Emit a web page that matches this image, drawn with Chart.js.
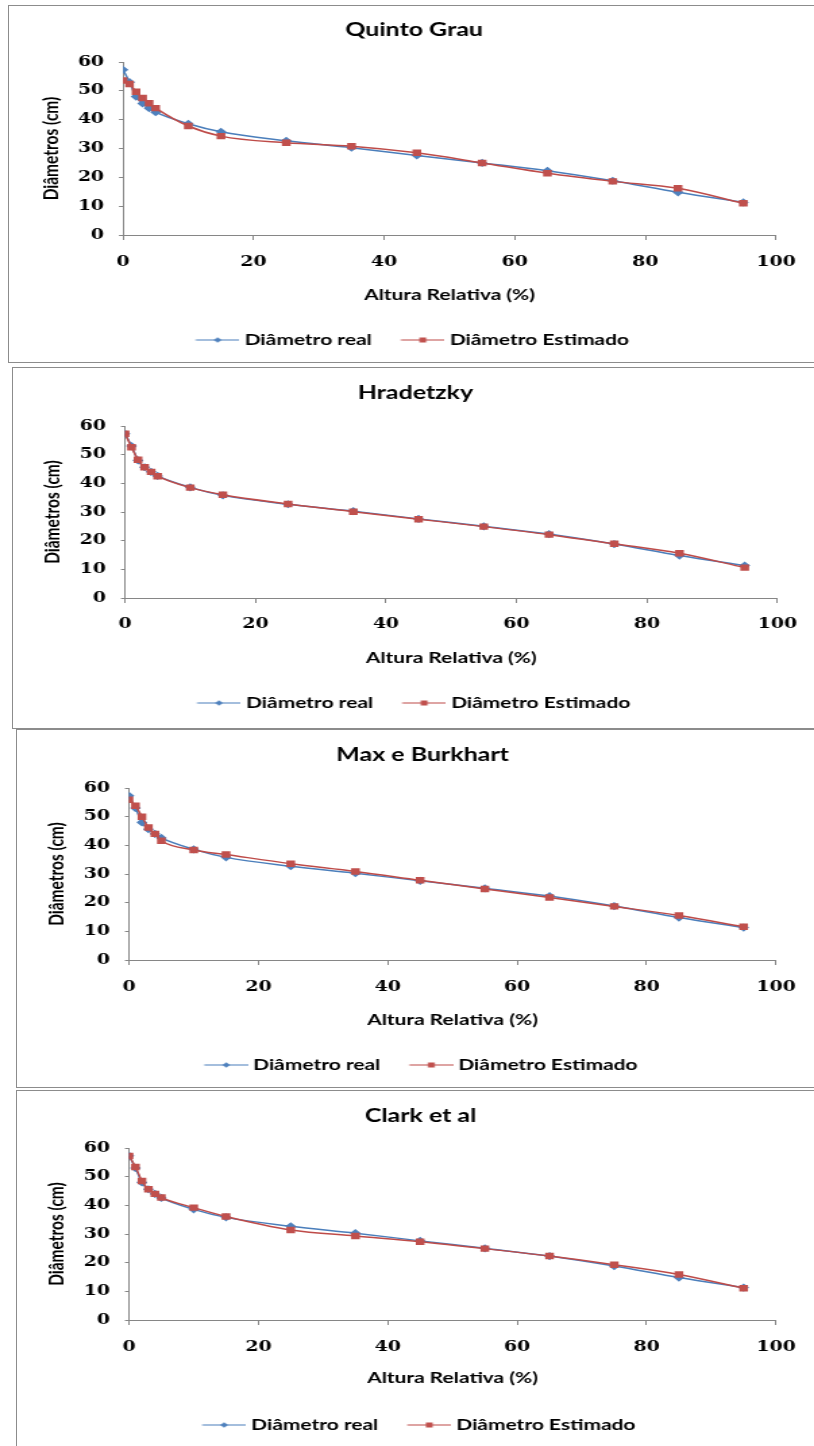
<!DOCTYPE html>
<html>
<head>
<meta charset="utf-8">
<title>Diâmetros ao longo do fuste</title>
<script src="https://cdn.jsdelivr.net/npm/chart.js@4.4.1/dist/chart.umd.min.js"></script>
<style>
  html, body { margin: 0; padding: 0; background: #fff; }
  body { position: relative; width: 814px; height: 1446px; overflow: hidden; }
  .moldura { position: absolute; border: 1px solid #8c8c8c; box-sizing: border-box; }
  .painel { position: absolute; left: 0; transform-origin: 0 0; }
</style>
</head>
<body>
<script>
// the source figure is stretched sideways, so each chart is drawn narrow and scaled in x
const S = 1.35;
const W = 814 / S;

const alturas = [0, 1, 2, 3, 4, 5, 10, 15, 25, 35, 45, 55, 65, 75, 85, 95];
const diametroReal = [57.3, 53.0, 48.0, 45.6, 44.0, 42.6, 38.6, 35.8, 32.7, 30.3, 27.6, 25.0, 22.3, 18.8, 14.8, 11.3];
const estQuintoGrau = [53.6, 52.4, 49.7, 47.5, 45.7, 44.0, 37.8, 34.3, 32.0, 30.8, 28.5, 25.0, 21.4, 18.6, 16.2, 11.0];
const estHradetzky = [57.3, 52.6, 48.2, 45.6, 44.0, 42.5, 38.5, 36.0, 32.8, 30.1, 27.5, 24.9, 22.1, 18.9, 15.6, 10.6];
const estMaxBurkhart = [55.9, 53.8, 50.0, 46.2, 44.0, 41.6, 38.4, 36.8, 33.6, 30.9, 27.8, 24.8, 21.8, 18.7, 15.5, 11.6];
const estClark = [57.2, 53.4, 48.5, 45.6, 44.0, 42.7, 39.2, 36.1, 31.4, 29.3, 27.3, 24.9, 22.3, 19.3, 15.9, 11.1];

const titulos = ['Quinto Grau', 'Hradetzky', 'Max e Burkhart', 'Clark et al'];
const estimados = [estQuintoGrau, estHradetzky, estMaxBurkhart, estClark];
const xTicks = [0, 20, 40, 60, 80, 100];
const yTicks = [0, 10, 20, 30, 40, 50, 60];

// page positions of each panel (px)
const paineis = [
  { top: 5, bottom: 363, frame: 8, plotL: 123, plotR: 778, plotT: 62, plotB: 235, titleX: 413, titleY: 30, yTitleX: 51, tickY: 262, xTitleY: 295, legendY: 340 },
  { top: 367, bottom: 729, frame: 12, plotL: 125, plotR: 778, plotT: 426, plotB: 598, titleX: 415, titleY: 393, yTitleX: 53, tickY: 624, xTitleY: 658, legendY: 703 },
  { top: 729, bottom: 1088, frame: 16, plotL: 129, plotR: 783, plotT: 788, plotB: 960, titleX: 419, titleY: 755, yTitleX: 57, tickY: 987, xTitleY: 1020, legendY: 1065 },
  { top: 1090, bottom: 1452, frame: 16, plotL: 129, plotR: 781, plotT: 1148, plotB: 1320, titleX: 418, titleY: 1116, yTitleX: 57, tickY: 1347, xTitleY: 1378, legendY: 1425 }
];

const fTitulo = { family: 'Lato', size: 18.5, weight: 'bold' };
const fEixo = { family: 'Lato', size: 15.5, weight: 'bold' };
const fTick = { family: 'DejaVu Serif', size: 14, weight: 'bold' };
const fLegenda = { family: 'Lato', size: 15.5, weight: 'bold' };

const corEixo = '#868686';
const azul = '#4A7EBB', azulMarca = '#4F81BD';
const vermelho = '#BE4B48', vermelhoMarca = '#C0504D';

// line + marker sample for the legend, like Excel draws it
function iconeLegenda(cor, corMarca, forma) {
  const c = document.createElement('canvas');
  c.width = 34; c.height = 10;
  const g = c.getContext('2d');
  g.strokeStyle = cor; g.lineWidth = 1.2;
  g.beginPath(); g.moveTo(1.5, 5); g.lineTo(34, 5); g.stroke();
  g.fillStyle = corMarca;
  const cx = 17.75, cy = 5;
  if (forma === 'rect') {
    g.fillRect(cx - 2.5, cy - 2.5, 5, 5);
  } else {
    g.beginPath();
    g.moveTo(cx, cy - 2.8); g.lineTo(cx + 2.8, cy); g.lineTo(cx, cy + 2.8); g.lineTo(cx - 2.8, cy);
    g.closePath(); g.fill();
  }
  return c;
}
const icones = [iconeLegenda(azul, azulMarca, 'rectRot'), iconeLegenda(vermelho, vermelhoMarca, 'rect')];

function pontos(ys) {
  return alturas.map((x, i) => ({ x: x, y: ys[i] }));
}

function montarConfig(i, adj) {
  const p = paineis[i];
  const H = p.bottom - p.top;
  const plotL = p.plotL / S, plotR = p.plotR / S;
  const plotT = p.plotT - p.top, plotB = p.plotB - p.top;
  const lhT = fTitulo.size * 1.2, lhE = fEixo.size * 1.2, lhTick = fTick.size * 1.2;
  const legPad = 24;
  const padL = 2 * p.titleX / S - plotR;
  const padR = W - plotR + adj.right;
  const yW = plotL - padL + adj.left;
  const xH = (p.legendY - p.plotB) - legPad - fLegenda.size / 2;
  const legH = fLegenda.size + legPad + 10;
  const padB = H - plotB - xH - legH + adj.bottom;

  return {
    type: 'line',
    data: {
      datasets: [
        {
          label: 'Diâmetro real',
          data: pontos(diametroReal),
          borderColor: azul,
          backgroundColor: azulMarca,
          pointBackgroundColor: azulMarca,
          pointBorderColor: azulMarca,
          pointStyle: 'rectRot',
          pointRadius: 3,
          borderWidth: 1.5,
          cubicInterpolationMode: 'monotone',
          order: 1
        },
        {
          label: 'Diâmetro Estimado',
          data: pontos(estimados[i]),
          borderColor: vermelho,
          backgroundColor: vermelhoMarca,
          pointBackgroundColor: vermelhoMarca,
          pointBorderColor: vermelhoMarca,
          pointStyle: 'rect',
          pointRadius: 3.5,
          borderWidth: 1.5,
          cubicInterpolationMode: 'monotone',
          order: 0
        }
      ]
    },
    options: {
      responsive: false,
      animation: false,
      events: [],
      layout: { padding: { left: padL, right: padR, top: 0, bottom: padB } },
      scales: {
        x: {
          type: 'linear',
          min: xTicks[0],
          max: xTicks[xTicks.length - 1],
          afterBuildTicks: (s) => { s.ticks = xTicks.map((v) => ({ value: v })); },
          afterFit: (s) => { s.height = xH; },
          grid: { drawOnChartArea: false, drawTicks: true, tickLength: 5, color: corEixo },
          border: { color: corEixo, width: 1 },
          ticks: { font: fTick, color: '#000', padding: (p.tickY - p.plotB) - 5 - lhTick / 2, maxRotation: 0, autoSkip: false },
          title: {
            display: true, text: 'Altura Relativa (%)', font: fEixo, color: '#000',
            padding: { top: 0, bottom: (p.plotB + xH) - p.xTitleY - lhE / 2 }
          }
        },
        y: {
          min: yTicks[0],
          max: yTicks[yTicks.length - 1],
          afterBuildTicks: (s) => { s.ticks = yTicks.map((v) => ({ value: v })); },
          afterFit: (s) => { s.width = yW; },
          grid: { drawOnChartArea: false, drawTicks: true, tickLength: 3, color: corEixo },
          border: { color: corEixo, width: 1 },
          ticks: { font: fTick, color: '#000', padding: 11 },
          title: {
            display: true, text: 'Diâmetros (cm)', font: fEixo, color: '#000',
            padding: { top: p.yTitleX / S - padL - lhE / 2, bottom: 0 }
          }
        }
      },
      plugins: {
        tooltip: { enabled: false },
        title: {
          display: true,
          text: titulos[i],
          font: fTitulo,
          color: '#000',
          padding: { top: (p.titleY - p.top) - lhT / 2, bottom: (plotT - (p.titleY - p.top)) - lhT / 2 + adj.top }
        },
        legend: {
          position: 'bottom',
          labels: {
            usePointStyle: true,
            pointStyleWidth: 26,
            padding: legPad,
            font: fLegenda,
            color: '#000',
            generateLabels(chart) {
              const itens = Chart.defaults.plugins.legend.labels.generateLabels(chart);
              itens.sort((a, b) => a.datasetIndex - b.datasetIndex);
              itens.forEach((it) => { it.pointStyle = icones[it.datasetIndex]; });
              return itens;
            }
          }
        }
      }
    },
    alvo: { left: plotL, right: plotR, top: plotT, bottom: plotB }
  };
}

paineis.forEach((p, i) => {
  const moldura = document.createElement('div');
  moldura.className = 'moldura';
  moldura.style.left = p.frame + 'px';
  moldura.style.top = p.top + 'px';
  moldura.style.width = (830 - p.frame) + 'px';
  moldura.style.height = (p.bottom - p.top) + 'px';
  document.body.appendChild(moldura);

  const painel = document.createElement('div');
  painel.className = 'painel';
  painel.style.top = p.top + 'px';
  painel.style.width = W + 'px';
  painel.style.height = (p.bottom - p.top) + 'px';
  painel.style.transform = 'scaleX(' + S + ')';
  const canvas = document.createElement('canvas');
  canvas.width = Math.round(W);
  canvas.height = p.bottom - p.top;
  painel.appendChild(canvas);
  document.body.appendChild(painel);

  // first pass, then nudge the plot area onto the measured position
  let cfg = montarConfig(i, { left: 0, right: 0, top: 0, bottom: 0 });
  let grafico = new Chart(canvas, cfg);
  const ca = grafico.chartArea, alvo = cfg.alvo;
  const adj = {
    left: alvo.left - ca.left,
    right: ca.right - alvo.right,
    top: alvo.top - ca.top,
    bottom: ca.bottom - alvo.bottom
  };
  if (Math.abs(adj.left) + Math.abs(adj.right) + Math.abs(adj.top) + Math.abs(adj.bottom) > 0.5) {
    grafico.destroy();
    cfg = montarConfig(i, adj);
    grafico = new Chart(canvas, cfg);
  }
});
</script>
</body>
</html>
